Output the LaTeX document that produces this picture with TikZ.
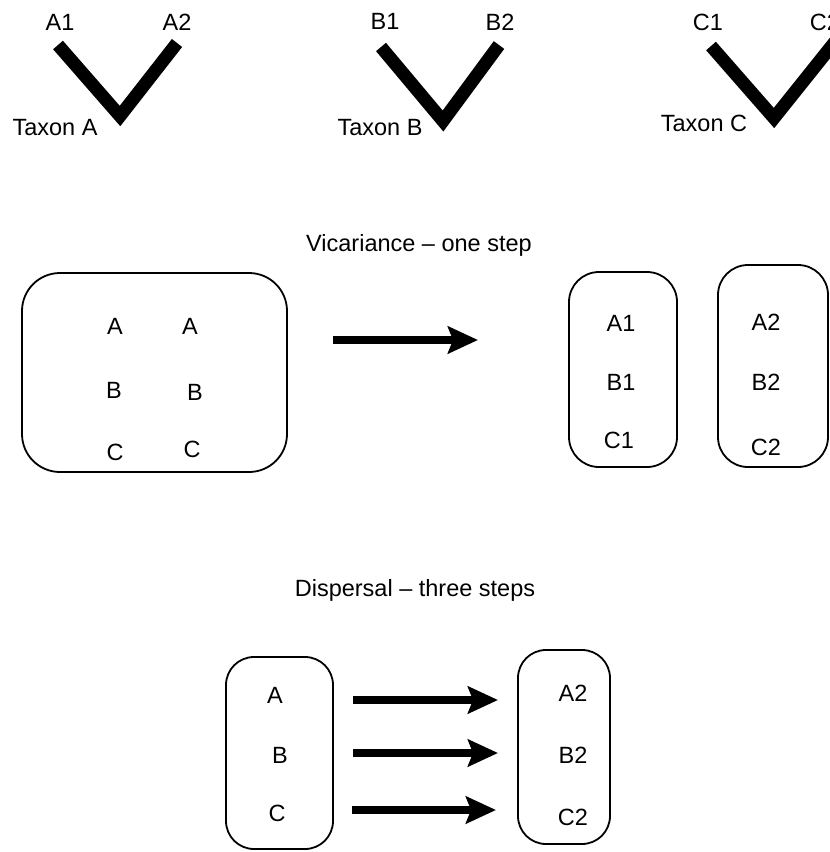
\documentclass[tikz,border=0pt]{standalone}
\usepackage{fontspec}
\setmainfont{Liberation Sans}
\usetikzlibrary{arrows.meta}
\tikzset{
  lbl/.style={font=\fontsize{23.5}{27}\selectfont, inner sep=0pt},
  arm/.style={line width=13pt, line join=miter, line cap=butt, miter limit=20},
  area/.style={draw, line width=1.8pt},
  bigarrow/.style={line width=7.5pt, -{Stealth[length=30pt,width=27pt,inset=5pt]}}
}
\begin{document}
\begin{tikzpicture}[x=1pt,y=-1pt]
\useasboundingbox (0,0) rectangle (830,852);
% trees
\coordinate (a1) at (58,45); \coordinate (av) at (120,116); \coordinate (a2) at (177,43);
\coordinate (b1) at (381,47); \coordinate (bv) at (443,121); \coordinate (b2) at (499,45);
\coordinate (c1) at (711,46); \coordinate (cv) at (774,118); \coordinate (c2) at (838,38);
\draw[arm] (a1) -- (av) -- (a2);
\draw[arm] (b1) -- (bv) -- (b2);
\draw[arm] (c1) -- (cv) -- (c2);
\node[lbl] (ta1) at (60,22) {A1};
\node[lbl] (ta2) at (177,22) {A2};
\node[lbl] (tb1) at (385,21) {B1};
\node[lbl] (tb2) at (500,22) {B2};
\node[lbl] (tc1) at (708,22) {C1};
\node[lbl] (tc2) at (825,22) {C2};
\node[lbl] (txa) at (55,128) {Taxon A};
\node[lbl] (txb) at (380,128) {Taxon B};
\node[lbl] (txc) at (704,123) {Taxon C};
% vicariance
\node[lbl] (vic) at (419,245) {Vicariance -- one step};
\draw[area, rounded corners=38pt] (22,273) rectangle (287,472);
\node[lbl] (va1) at (115,326) {A};
\node[lbl] (va2) at (190,326) {A};
\node[lbl] (vb1) at (114,390) {B};
\node[lbl] (vb2) at (195,392) {B};
\node[lbl] (vc1) at (115,452) {C};
\node[lbl] (vc2) at (192,449) {C};
\coordinate (vs) at (333,340); \coordinate (ve) at (478,340);
\draw[bigarrow] (vs) -- (ve);
\draw[area, rounded corners=30pt] (569,272) rectangle (677,467);
\draw[area, rounded corners=30pt] (718,265) rectangle (828,467);
\node[lbl] (r1a) at (621,323) {A1};
\node[lbl] (r1b) at (621,382) {B1};
\node[lbl] (r1c) at (619,440) {C1};
\node[lbl] (r2a) at (766,322) {A2};
\node[lbl] (r2b) at (766,382) {B2};
\node[lbl] (r2c) at (766,447) {C2};
% dispersal
\node[lbl] (dis) at (415,590) {Dispersal -- three steps};
\draw[area, rounded corners=28pt] (226,657) rectangle (333,849);
\draw[area, rounded corners=28pt] (518,650) rectangle (610,844);
\node[lbl] (da) at (275,695) {A};
\node[lbl] (db) at (280,755) {B};
\node[lbl] (dc) at (277,813) {C};
\node[lbl] (ea) at (573,693) {A2};
\node[lbl] (eb) at (573,755) {B2};
\node[lbl] (ec) at (573,817) {C2};
\coordinate (s1) at (353,700); \coordinate (e1) at (498,700);
\coordinate (s2) at (353,753); \coordinate (e2) at (498,753);
\coordinate (s3) at (352,810); \coordinate (e3) at (496,810);
\draw[bigarrow] (s1) -- (e1);
\draw[bigarrow] (s2) -- (e2);
\draw[bigarrow] (s3) -- (e3);
\end{tikzpicture}
\end{document}
